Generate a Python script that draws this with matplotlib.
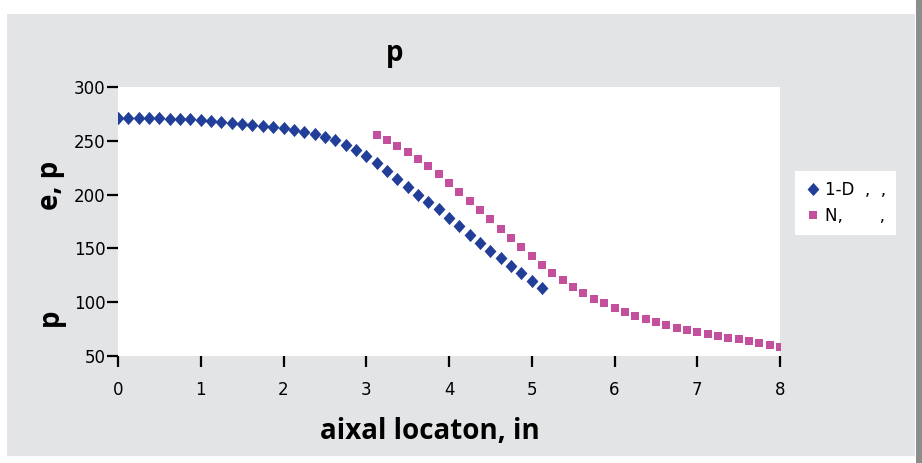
import matplotlib
matplotlib.use("Agg")
import matplotlib.pyplot as plt
from matplotlib.patches import Rectangle

# 1-D model, axial location (in) vs value
x_1d = [0.0, 0.125, 0.25, 0.375, 0.5, 0.625, 0.75, 0.875, 1.0, 1.125,
        1.25, 1.375, 1.5, 1.625, 1.75, 1.875, 2.0, 2.125, 2.25, 2.375,
        2.5, 2.625, 2.75, 2.875, 3.0, 3.125, 3.25, 3.375, 3.5, 3.625,
        3.75, 3.875, 4.0, 4.125, 4.25, 4.375, 4.5, 4.625, 4.75, 4.875,
        5.0, 5.125]
y_1d = [271, 271, 271, 271, 270.8, 270.6, 270.3, 270, 269.4, 268.7,
        267.9, 267, 266, 265, 264, 263, 262, 260.5, 258.5, 256.5,
        254, 251, 246.5, 241.5, 235.5, 229, 222, 215, 207, 200,
        193.5, 186.5, 178, 171, 162.5, 155, 148, 141, 134, 127,
        120, 113.5]

# second series
x_n = [3.125, 3.25, 3.375, 3.5, 3.625, 3.75, 3.875, 4.0, 4.125, 4.25,
       4.375, 4.5, 4.625, 4.75, 4.875, 5.0, 5.125, 5.25, 5.375, 5.5,
       5.625, 5.75, 5.875, 6.0, 6.125, 6.25, 6.375, 6.5, 6.625, 6.75,
       6.875, 7.0, 7.125, 7.25, 7.375, 7.5, 7.625, 7.75, 7.875, 8.0]
y_n = [255.8, 250.5, 245, 239.5, 233.5, 227, 219.5, 211, 202.5, 194,
       185.5, 177, 168.5, 160, 151.5, 143, 135, 127.5, 120.5, 114,
       108.5, 103.3, 99, 95, 91, 87.5, 84.2, 81.2, 78.7, 76.3,
       74.2, 72.2, 70.3, 68.5, 66.9, 65.4, 63.8, 62.2, 60.5, 58.5]

xticks = [0, 1, 2, 3, 4, 5, 6, 7, 8]
yticks = [50, 100, 150, 200, 250, 300]

plt.rcParams['font.family'] = ['Liberation Sans Narrow', 'DejaVu Sans']

fig = plt.figure(figsize=(9.22, 4.63), dpi=100)
fig.patch.set_facecolor('white')

# gray outer panel
fig.patches.append(Rectangle((0.008, 0.015), 0.984, 0.955, transform=fig.transFigure,
                             facecolor='#e3e4e6', edgecolor='none', zorder=-10))
fig.patches.append(Rectangle((0.993, 0.0), 0.007, 1.0, transform=fig.transFigure,
                             facecolor='#8c8c8c', edgecolor='none', zorder=-10))

diamond = [(-0.45, 0), (0, 0.5), (0.45, 0), (0, -0.5), (-0.45, 0)]

ax = fig.add_axes([0.128, 0.231, 0.718, 0.581])
ax.set_facecolor('white')
ax.plot(x_1d, y_1d, linestyle='none', marker=diamond, markersize=9.5,
        markeredgewidth=0, color='#213f99', label='1-D  ,  ,')
ax.plot(x_n, y_n, linestyle='none', marker='s', markersize=5.5,
        markeredgewidth=0, color='#c44f9c', label='N,       ,')

ax.set_xlim(0, 8)
ax.set_ylim(50, 300)
ax.set_xticks(xticks)
ax.set_yticks(yticks)
for s in ax.spines.values():
    s.set_visible(False)
ax.tick_params(axis='both', direction='out', length=8, width=1.6, color='black',
               labelsize=12)
ax.tick_params(axis='x', pad=10)
ax.tick_params(axis='y', pad=1)

fig.text(0.428, 0.885, 'p', fontsize=20, fontweight='bold', ha='center', va='center',
         family=['Open Sans', 'DejaVu Sans'])
fig.text(0.466, 0.067, 'aixal locaton, in', fontsize=20, fontweight='bold',
         ha='center', va='center', family=['Open Sans', 'DejaVu Sans'])
fig.text(0.055, 0.60, 'e, p', fontsize=20, fontweight='bold', rotation=90,
         ha='center', va='center', family=['Open Sans', 'DejaVu Sans'])
fig.text(0.055, 0.315, 'p', fontsize=20, fontweight='bold', rotation=90,
         ha='center', va='center', family=['Open Sans', 'DejaVu Sans'])

leg = ax.legend(loc='upper left', bbox_to_anchor=(1.01, 0.72), frameon=True,
                fancybox=False, framealpha=1, edgecolor='white', fontsize=12,
                handletextpad=0.2, borderpad=0.6, labelspacing=0.5,
                handlelength=1.0)
leg.get_frame().set_linewidth(0)

fig.savefig('out.png', dpi=100)
